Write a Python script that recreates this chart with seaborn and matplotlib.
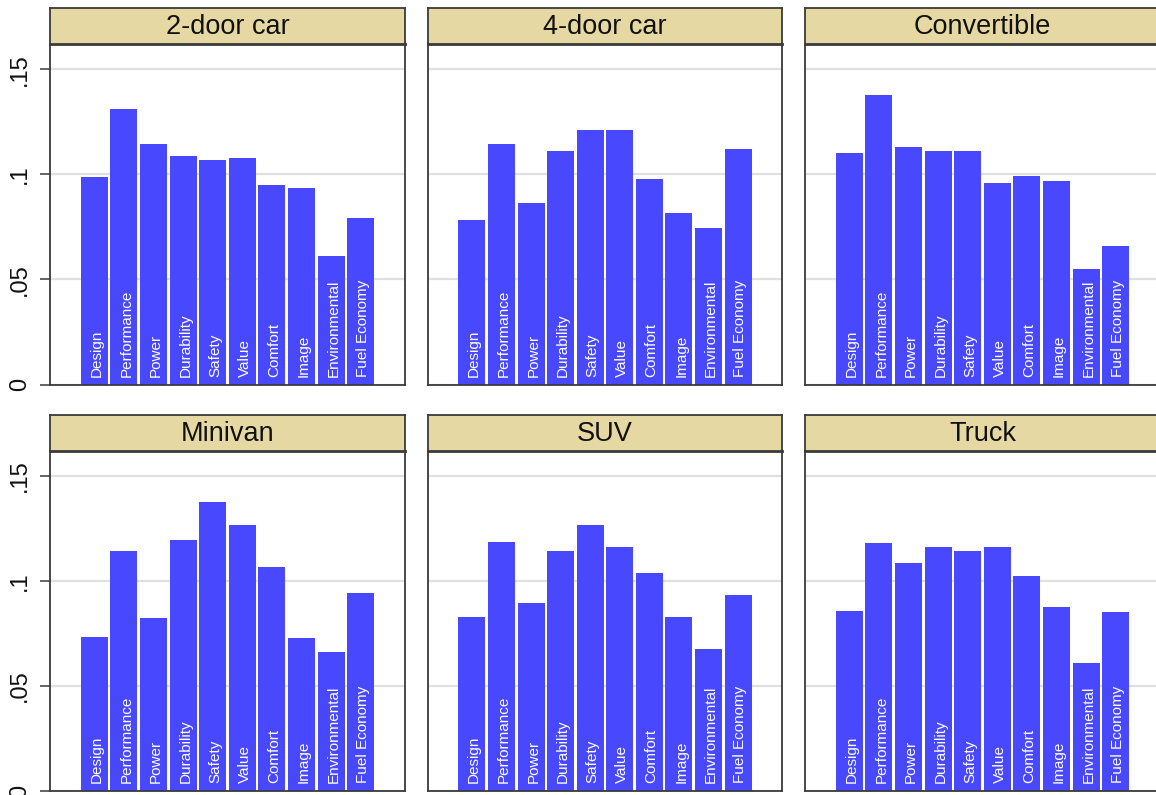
import matplotlib
matplotlib.use("Agg")
import matplotlib.pyplot as plt
import seaborn as sns
import pandas as pd

# ---------------- data ----------------
attributes = ["Design", "Performance", "Power", "Durability", "Safety",
              "Value", "Comfort", "Image", "Environmental", "Fuel Economy"]
vehicle_types = ["2-door car", "4-door car", "Convertible", "Minivan", "SUV", "Truck"]

two_door = [0.0987, 0.1313, 0.1146, 0.1087, 0.1067, 0.1080, 0.0948, 0.0937, 0.0610, 0.0792]
four_door = [0.0782, 0.1147, 0.0863, 0.1112, 0.1210, 0.1212, 0.0977, 0.0817, 0.0744, 0.1121]
convertible = [0.1104, 0.1379, 0.1132, 0.1113, 0.1112, 0.0961, 0.0993, 0.0970, 0.0549, 0.0661]
minivan = [0.0735, 0.1141, 0.0822, 0.1195, 0.1378, 0.1267, 0.1067, 0.0730, 0.0663, 0.0944]
suv = [0.0830, 0.1184, 0.0894, 0.1143, 0.1268, 0.1160, 0.1037, 0.0830, 0.0675, 0.0932]
truck = [0.0859, 0.1179, 0.1086, 0.1160, 0.1143, 0.1160, 0.1022, 0.0878, 0.0608, 0.0851]

ytick_values = [0, 0.05, 0.10, 0.15]
ytick_labels = ["0", ".05", ".1", ".15"]

series = [two_door, four_door, convertible, minivan, suv, truck]
df = pd.DataFrame([
    {"vehicle": v, "attribute": a, "share": s}
    for v, vals in zip(vehicle_types, series)
    for a, s in zip(attributes, vals)
])

# ---------------- style ----------------
sns.set_theme(style="white")
plt.rcParams["font.family"] = ["Liberation Sans", "DejaVu Sans"]

BAR = "#4848FF"
STRIP = "#E6D8A2"
SPINE = "#3A3A3A"
GRID = "#E0E0E0"

W, H = 1156, 795
fig = plt.figure(figsize=(W / 100, H / 100), dpi=100)
fig.patch.set_facecolor("white")

lefts = [50, 427.5, 805]
pw = 355
rows = [  # (strip_top, strip_bottom/axes_top, axes_bottom) in pixels
    (8, 44, 384.5),
    (415, 450.7, 791),
]

for idx, vt in enumerate(vehicle_types):
    r, c = divmod(idx, 3)
    st, at, ab = rows[r]
    x0 = lefts[c]
    ax = fig.add_axes([x0 / W, 1 - ab / H, pw / W, (ab - at) / H])
    sax = fig.add_axes([x0 / W, 1 - at / H, pw / W, (at - st) / H])

    sub = df[df["vehicle"] == vt]
    sns.barplot(data=sub, x="attribute", y="share", order=attributes,
                color=BAR, saturation=1, width=0.915, errorbar=None,
                linewidth=0, ax=ax)
    ax.set_xlim(-1.5, 10.5)
    ax.set_ylim(0, 0.1621)
    ax.set_xlabel("")
    ax.set_ylabel("")
    ax.set_xticks([])
    ax.set_yticks(ytick_values)
    ax.set_axisbelow(True)
    ax.yaxis.grid(True, color=GRID, linewidth=1.6)
    ax.set_facecolor("white")
    for sp in ax.spines.values():
        sp.set_visible(True)
        sp.set_color(SPINE)
        sp.set_linewidth(1.3)
    if c == 0:
        ax.set_yticklabels(ytick_labels, rotation=90, va="center",
                           fontsize=17, color="#111111")
        ax.tick_params(axis="y", length=7.5, width=1.1, color=SPINE,
                       pad=6, left=True, direction="out")
    else:
        ax.tick_params(axis="y", left=False, labelleft=False)

    for i, a in enumerate(attributes):
        ax.text(i + 0.08, 0.0036, a, rotation=90, ha="center", va="bottom",
                color="white", fontsize=11)

    # strip
    sax.set_facecolor(STRIP)
    sax.set_xticks([])
    sax.set_yticks([])
    for sp in sax.spines.values():
        sp.set_visible(True)
        sp.set_color(SPINE)
        sp.set_linewidth(1.3)
    sax.spines["bottom"].set_linewidth(2.0)
    sax.text(0.5, 0.47, vt, ha="center", va="center", fontsize=19.5,
             color="#111111", transform=sax.transAxes)

fig.savefig("out.png", dpi=100, facecolor="white")
